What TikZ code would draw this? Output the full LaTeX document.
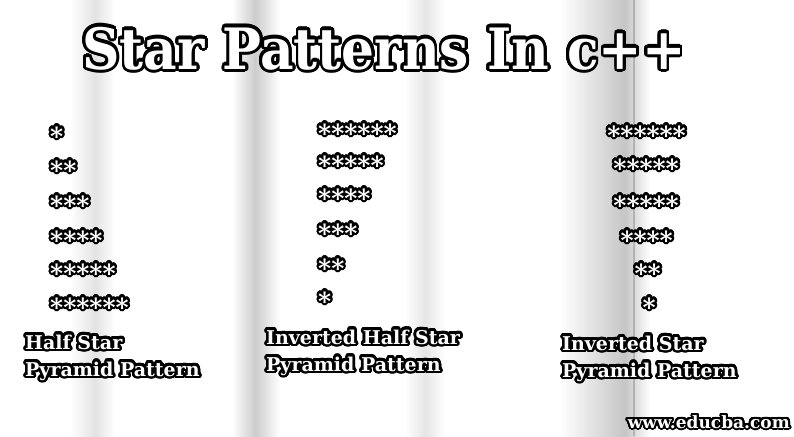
\documentclass[tikz,border=0pt]{standalone}
\usepackage{fontspec}
\setmainfont{DejaVu Serif}
\usepackage[copies]{contour}
\contournumber{32}
\tikzset{
  band/.style={draw=none},
  title/.style={anchor=base, inner sep=0pt, font=\bfseries\fontsize{57}{60}\selectfont},
  lbl/.style={anchor=base west, inner sep=0pt, align=left, font=\bfseries\fontsize{19}{27}\selectfont},
  stars/.style={anchor=base west, inner sep=0pt, font=\bfseries\fontsize{25}{25}\selectfont},
  starsr/.style={anchor=base east, inner sep=0pt, font=\bfseries\fontsize{25}{25}\selectfont},
  web/.style={anchor=base east, inner sep=0pt, font=\bfseries\fontsize{17}{17}\selectfont}
}
\newcommand{\ol}[2][2.2pt]{\contourlength{#1}\contour{black}{\textcolor{white}{#2}}}
\begin{document}
\begin{tikzpicture}[x=1pt,y=-1pt]
\useasboundingbox (0,0) rectangle (794,436);
\fill[white] (0,0) rectangle (794,436);
% background dithered bands
\shade[band, left color=white, right color=gray!22] (70,0) rectangle (95,436);
\shade[band, left color=gray!22, right color=white] (95,0) rectangle (115,436);
\shade[band, left color=white, right color=gray!40] (232,0) rectangle (255,436);
\shade[band, left color=gray!40, right color=white] (255,0) rectangle (280,436);
\shade[band, left color=white, right color=gray!20] (405,0) rectangle (425,436);
\shade[band, left color=gray!20, right color=white] (425,0) rectangle (445,436);
\shade[band, left color=white, right color=gray!45] (560,0) rectangle (625,436);
\shade[band, left color=gray!45, right color=white] (625,0) rectangle (650,436);
\fill[gray!60] (633,0) rectangle (635,436);
% title
\node[title] (t) at (384,69) {\scalebox{0.91}[1]{\ol[3pt]{Star Patterns In c++}}};
% column 1
\node[stars] (a1) at (50,145) {\ol{*}};
\node[stars] (a2) at (50,179) {\ol{**}};
\node[stars] (a3) at (50,214) {\ol{***}};
\node[stars] (a4) at (50,249) {\ol{****}};
\node[stars] (a5) at (50,282) {\ol{*****}};
\node[stars] (a6) at (50,316) {\ol{******}};
% column 2
\node[stars] (b1) at (318,142) {\ol{******}};
\node[stars] (b2) at (318,174) {\ol{*****}};
\node[stars] (b3) at (318,207) {\ol{****}};
\node[stars] (b4) at (318,242) {\ol{***}};
\node[stars] (b5) at (318,277) {\ol{**}};
\node[stars] (b6) at (318,310) {\ol{*}};
% column 3
\node[starsr] (c1) at (686,144) {\ol{******}};
\node[starsr] (c2) at (679,177) {\ol{*****}};
\node[starsr] (c3) at (679,214) {\ol{*****}};
\node[starsr] (c4) at (673,249) {\ol{****}};
\node[starsr] (c5) at (661,282) {\ol{**}};
\node[starsr] (c6) at (656,316) {\ol{*}};
% labels
\node[lbl] (l1) at (25,376) {\ol[2.6pt]{Half Star}\\\ol[2.6pt]{Pyramid Pattern}};
\node[lbl] (l2) at (266,371) {\ol[2.6pt]{Inverted Half Star}\\\ol[2.6pt]{Pyramid Pattern}};
\node[lbl] (l3) at (562,377) {\ol[2.6pt]{Inverted Star}\\\ol[2.6pt]{Pyramid Pattern}};
\node[web] (w) at (790,428) {\ol[2pt]{www.educba.com}};
\end{tikzpicture}
\end{document}
